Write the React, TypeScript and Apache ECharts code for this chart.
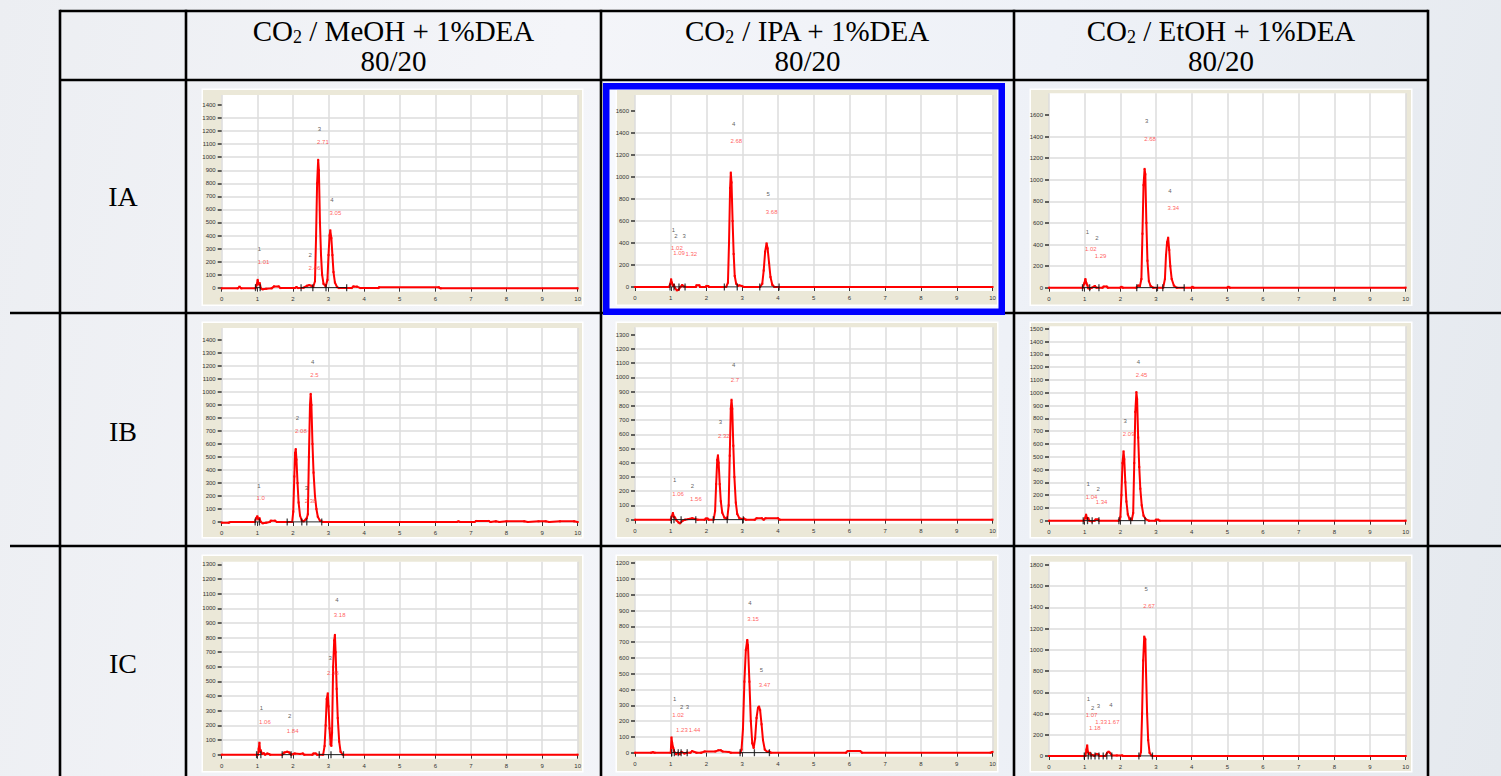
import React, { useEffect, useRef } from 'react';
import * as echarts from 'echarts';

// ---------- texts ----------
const columnSolvents = ['MeOH', 'IPA', 'EtOH'];
const headerAdditive = '1%DEA';
const headerRatio = '80/20';
const rowLabels = ['IA', 'IB', 'IC'];

// ---------- axis ranges (panel order: IA-MeOH, IA-IPA, IA-EtOH, IB-..., IC-...) ----------
const xMin = 0;
const xMax = 10;
const xStep = 1;
const yMaxes = [1477, 1745, 1800, 1492, 1352, 1519, 1318, 1216, 1831];
const ySteps = [100, 200, 200, 100, 100, 100, 100, 100, 200];
const yLabelTops = [1400, 1600, 1600, 1400, 1300, 1500, 1300, 1200, 1800];

// ---------- chromatogram traces [time, signal] ----------
const traceIA_MeOH = [[0,-5],[0.45,-5],[0.5,8],[0.55,-5],[0.95,-5],[0.98,20],[1.01,60],[1.04,25],[1.07,35],[1.1,-5],[1.15,-12],[1.25,-8],[1.4,-5],[1.47,10],[1.6,10],[1.65,-3],[2.05,-3],[2.1,5],[2.15,-3],[2.3,0],[2.4,15],[2.46,20],[2.52,15],[2.57,5],[2.62,50],[2.65,380],[2.68,800],[2.71,980],[2.73,900],[2.76,500],[2.79,250],[2.82,100],[2.86,30],[2.92,10],[2.97,60],[3.0,250],[3.03,400],[3.05,440],[3.08,380],[3.11,250],[3.14,120],[3.18,40],[3.24,5],[3.3,-3],[3.65,-3],[3.7,10],[3.8,8],[3.9,-3],[4.4,-3],[4.42,3],[6.1,3],[6.15,-5],[10,-5]];
const traceIA_IPA = [[0,0],[0.95,0],[0.99,30],[1.01,70],[1.03,40],[1.06,10],[1.09,20],[1.12,-10],[1.17,-30],[1.22,-25],[1.27,0],[1.32,18],[1.36,5],[1.45,0],[1.7,0],[1.72,15],[1.8,15],[1.82,0],[1.98,0],[2.0,10],[2.05,8],[2.07,0],[2.55,0],[2.6,40],[2.63,400],[2.66,900],[2.68,1040],[2.7,950],[2.73,600],[2.76,300],[2.79,100],[2.83,30],[2.88,10],[2.92,15],[2.98,10],[3.05,0],[3.5,0],[3.56,30],[3.6,150],[3.64,320],[3.68,397],[3.71,350],[3.75,220],[3.79,90],[3.84,20],[3.9,0],[10,0]];
const traceIA_EtOH = [[0,0],[0.95,0],[0.99,40],[1.02,80],[1.05,40],[1.08,20],[1.1,-5],[1.15,-8],[1.2,0],[1.26,10],[1.29,15],[1.33,0],[1.5,0],[1.53,10],[1.62,10],[1.65,0],[2.0,0],[2.03,8],[2.07,0],[2.45,0],[2.5,20],[2.55,15],[2.59,80],[2.62,500],[2.65,950],[2.68,1100],[2.7,1050],[2.73,600],[2.76,250],[2.8,60],[2.85,15],[2.92,0],[3.2,0],[3.25,80],[3.28,300],[3.31,420],[3.34,463],[3.37,350],[3.4,200],[3.44,80],[3.5,20],[3.58,0],[4.0,0],[4.02,8],[4.05,0],[5.0,0],[5.03,8],[5.07,0],[10,0]];
const traceIB_MeOH = [[0,-5],[0.2,-5],[0.25,0],[0.93,0],[0.97,30],[1.0,44],[1.03,20],[1.06,30],[1.1,0],[1.15,-10],[1.25,-5],[1.35,0],[1.38,10],[1.5,10],[1.55,0],[1.98,0],[2.01,80],[2.04,350],[2.06,530],[2.08,561],[2.1,480],[2.13,300],[2.16,150],[2.2,50],[2.25,10],[2.3,5],[2.36,20],[2.39,30],[2.42,60],[2.45,500],[2.48,900],[2.5,985],[2.52,900],[2.55,600],[2.58,380],[2.62,200],[2.66,100],[2.7,40],[2.76,10],[2.85,0],[6.6,0],[6.65,5],[6.7,0],[7.1,0],[7.15,8],[7.5,8],[7.55,0],[7.7,5],[7.8,0],[8.0,5],[8.5,5],[8.6,0],[8.9,5],[9.1,5],[9.2,0],[9.5,5],[9.9,5],[10,0]];
const traceIB_IPA = [[0,0],[1.0,0],[1.03,25],[1.06,47],[1.09,20],[1.12,15],[1.16,-5],[1.22,-20],[1.26,-25],[1.32,-10],[1.4,0],[1.5,5],[1.6,10],[1.68,5],[1.75,0],[1.95,0],[1.98,8],[2.03,8],[2.06,0],[2.2,0],[2.24,60],[2.27,250],[2.3,420],[2.32,452],[2.34,400],[2.37,250],[2.4,130],[2.44,50],[2.5,15],[2.58,5],[2.62,100],[2.65,450],[2.68,780],[2.7,843],[2.72,780],[2.75,520],[2.78,300],[2.82,120],[2.86,40],[2.92,10],[3.0,5],[3.05,8],[3.1,0],[3.35,0],[3.4,10],[3.55,10],[3.6,0],[3.65,10],[4.0,10],[4.05,0],[10,0]];
const traceIB_EtOH = [[0,0],[0.98,0],[1.01,20],[1.04,47],[1.07,15],[1.1,20],[1.13,0],[1.2,-5],[1.28,0],[1.31,10],[1.37,10],[1.4,0],[1.95,0],[1.98,5],[2.0,30],[2.03,200],[2.06,450],[2.09,542],[2.11,480],[2.14,300],[2.17,150],[2.21,50],[2.26,10],[2.32,5],[2.36,60],[2.39,450],[2.42,850],[2.45,1005],[2.47,950],[2.5,650],[2.53,420],[2.56,250],[2.6,120],[2.65,40],[2.72,10],[2.8,0],[2.98,0],[3.0,8],[3.06,8],[3.1,0],[10,0]];
const traceIC_MeOH = [[0,0],[1.02,0],[1.04,40],[1.06,82],[1.08,20],[1.1,30],[1.13,5],[1.18,10],[1.22,0],[1.28,8],[1.32,5],[1.36,0],[1.7,0],[1.76,15],[1.84,20],[1.9,15],[1.95,0],[2.05,8],[2.2,5],[2.28,8],[2.32,0],[2.55,0],[2.58,8],[2.64,8],[2.68,0],[2.85,0],[2.89,60],[2.92,200],[2.95,380],[2.98,419],[3.0,330],[3.03,180],[3.06,70],[3.08,60],[3.1,150],[3.13,600],[3.16,780],[3.18,818],[3.2,700],[3.23,450],[3.26,250],[3.3,90],[3.34,20],[3.4,0],[10,0]];
const traceIC_IPA = [[0,0],[0.45,0],[0.5,3],[0.55,0],[1.0,0],[1.02,97],[1.04,60],[1.07,30],[1.1,5],[1.15,-10],[1.2,0],[1.25,-10],[1.3,5],[1.38,-5],[1.45,0],[1.55,0],[1.6,10],[1.66,5],[1.72,0],[1.85,0],[1.95,8],[2.25,8],[2.33,15],[2.4,15],[2.45,8],[2.62,5],[2.68,0],[2.95,0],[2.98,20],[3.02,150],[3.06,450],[3.1,650],[3.14,714],[3.16,680],[3.2,450],[3.24,200],[3.28,60],[3.32,30],[3.36,90],[3.4,220],[3.44,285],[3.47,292],[3.5,270],[3.54,180],[3.58,80],[3.63,20],[3.7,5],[3.75,8],[3.8,0],[5.9,0],[5.95,10],[6.3,10],[6.35,0],[9.95,0],[10,5]];
const traceIC_EtOH = [[0,0],[1.02,0],[1.05,60],[1.07,100],[1.09,40],[1.12,20],[1.15,30],[1.18,5],[1.22,10],[1.27,0],[1.33,20],[1.38,15],[1.42,0],[1.58,0],[1.63,30],[1.67,41],[1.71,30],[1.76,5],[1.9,5],[2.05,5],[2.08,0],[2.55,0],[2.58,40],[2.61,400],[2.64,900],[2.67,1125],[2.7,1100],[2.72,800],[2.75,400],[2.78,150],[2.82,30],[2.87,5],[2.92,0],[10,0]];

// ---------- peak numbers [x, y, text] ----------
const numsIA_MeOH = [[1.01,296,'1'],[2.44,250,'2'],[2.7,1216,'3'],[3.05,672,'4']];
const numsIA_IPA = [[1.03,518,'1'],[1.1,467,'2'],[1.33,467,'3'],[2.71,1485,'4'],[3.68,845,'5']];
const numsIA_EtOH = [[1.03,519,'1'],[1.3,460,'2'],[2.69,1543,'3'],[3.34,895,'4']];
const numsIB_MeOH = [[1.0,279,'1'],[2.08,800,'2'],[2.33,262,'3'],[2.51,1231,'4']];
const numsIB_IPA = [[1.06,276,'1'],[1.56,237,'2'],[2.34,686,'3'],[2.71,1084,'4']];
const numsIB_EtOH = [[1.05,289,'1'],[1.33,247,'2'],[2.09,776,'3'],[2.46,1240,'4']];
const numsIC_MeOH = [[1.07,321,'1'],[1.86,264,'2'],[3.0,663,'3'],[3.19,1055,'4']];
const numsIC_IPA = [[1.06,340,'1'],[1.26,290,'2'],[1.42,290,'3'],[3.17,951,'4'],[3.49,524,'5']];
const numsIC_EtOH = [[1.06,538,'1'],[1.18,453,'2'],[1.34,475,'3'],[1.69,481,'4'],[2.68,1572,'5']];

// ---------- retention-time labels [x, y, text] ----------
const rtsIA_MeOH = [[1.01,197,'1.01'],[2.44,153,'2.46'],[2.68,1113,'2.71'],[3.03,575,'3.05']];
const rtsIA_IPA = [[1.01,358,'1.02'],[1.07,306,'1.09'],[1.41,303,'1.32'],[2.67,1327,'2.68'],[3.66,682,'3.68']];
const rtsIA_EtOH = [[1.01,358,'1.02'],[1.28,293,'1.29'],[2.67,1377,'2.68'],[3.32,735,'3.34']];
const rtsIB_MeOH = [[0.98,185,'1.0'],[2.06,697,'2.08'],[2.33,164,'2.38'],[2.49,1128,'2.5']];
const rtsIB_IPA = [[1.04,180,'1.06'],[1.54,145,'1.56'],[2.32,588,'2.32'],[2.68,981,'2.7']];
const rtsIB_EtOH = [[1.03,185,'1.04'],[1.31,148,'1.34'],[2.07,677,'2.09'],[2.43,1135,'2.45']];
const rtsIC_MeOH = [[1.05,223,'1.06'],[1.83,162,'1.84'],[2.96,558,'2.98'],[3.15,954,'3.18']];
const rtsIC_IPA = [[1.04,236,'1.02'],[1.15,144,'1.23'],[1.5,144,'1.44'],[3.14,848,'3.15'],[3.46,429,'3.47']];
const rtsIC_EtOH = [[1.03,385,'1.07'],[1.12,268,'1.18'],[1.3,325,'1.33'],[1.65,320,'1.67'],[2.64,1415,'2.67']];

// ---------- integration boundaries (clusters of marks) ----------
const marksIA_MeOH = [[0.95,1.08],[2.23,2.56,2.93,3.51]];
const marksIA_IPA = [[0.98,1.09,1.23,1.4],[2.5,2.86],[3.49,4.03]];
const marksIA_EtOH = [[0.94,1.14,1.4],[2.46,3.04],[3.19,3.79]];
const marksIB_MeOH = [[0.94,1.06],[1.84,2.25,2.39,2.81]];
const marksIB_IPA = [[1.01,1.09,1.29,1.7],[2.19,2.58,3.03]];
const marksIB_EtOH = [[0.96,1.08,1.21,1.4],[1.96,2.29,2.69]];
const marksIC_MeOH = [[0.98,1.1],[1.7,1.95],[2.74,3.07,3.42]];
const marksIC_IPA = [[1.03,1.1,1.21,1.29,1.46],[2.94,3.34,3.76]];
const marksIC_EtOH = [[0.99,1.1,1.18,1.29,1.4],[1.52,1.62,1.76],[2.52,2.9]];

const traces = [traceIA_MeOH, traceIA_IPA, traceIA_EtOH, traceIB_MeOH, traceIB_IPA, traceIB_EtOH, traceIC_MeOH, traceIC_IPA, traceIC_EtOH];
const nums = [numsIA_MeOH, numsIA_IPA, numsIA_EtOH, numsIB_MeOH, numsIB_IPA, numsIB_EtOH, numsIC_MeOH, numsIC_IPA, numsIC_EtOH];
const rts = [rtsIA_MeOH, rtsIA_IPA, rtsIA_EtOH, rtsIB_MeOH, rtsIB_IPA, rtsIB_EtOH, rtsIC_MeOH, rtsIC_IPA, rtsIC_EtOH];
const marks = [marksIA_MeOH, marksIA_IPA, marksIA_EtOH, marksIB_MeOH, marksIB_IPA, marksIB_EtOH, marksIC_MeOH, marksIC_IPA, marksIC_EtOH];

// ---------- layout (pixels) ----------
const colX0 = [221.7, 635, 1049];
const colX10 = [577.7, 992.5, 1405.7];
const panelY0 = [287.7, 287, 287.7, 522, 519.7, 520.7, 754.7, 752.7, 756];
const panelYTop = [95, 95, 93.3, 328, 327.3, 326.3, 561.7, 560.7, 561.7];
const frameX = [[203, 582], [617, 997], [1031, 1411]];
const frameY = [[90, 304.5], [323, 537], [556, 771]];
const tableVX = [60, 186, 601, 1014, 1428];
const tableTop = 11;
const headerBottom = 80;
const rowLinesY = [313, 546];
const rowCentersY = [196, 431, 663];

const SERIF = '"Liberation Serif", "Times New Roman", serif';
const SANS = '"Liberation Sans", Arial, sans-serif';

function tickValues(step: number, top: number) {
  const out: number[] = [];
  for (let v = 0; v <= top + 1e-6; v += step) out.push(v);
  return out;
}

function buildOption() {
  const grid: any[] = [];
  const xAxis: any[] = [];
  const yAxis: any[] = [];
  const series: any[] = [];
  const graphic: any[] = [];

  // table lines
  const tl = (x1: number, y1: number, x2: number, y2: number) => ({
    type: 'line', z: 10, silent: true,
    shape: { x1, y1, x2, y2 },
    style: { stroke: '#000', lineWidth: 2.6 },
  });
  graphic.push(tl(tableVX[0], tableTop, tableVX[4], tableTop));
  graphic.push(tl(tableVX[0], headerBottom, tableVX[4], headerBottom));
  rowLinesY.forEach((y) => graphic.push(tl(10, y, 1501, y)));
  tableVX.forEach((x) => graphic.push(tl(x, tableTop - 1.3, x, 776)));

  // header
  columnSolvents.forEach((s, c) => {
    const cx = (tableVX[c + 1] + tableVX[c + 2]) / 2;
    graphic.push({
      type: 'text', z: 10, silent: true, x: cx, y: 31,
      style: {
        text: `{a|CO}{s|2}{a| / ${s} + ${headerAdditive}}`,
        align: 'center', verticalAlign: 'middle', fill: '#000',
        rich: {
          a: { fontSize: 29, fontFamily: SERIF, fill: '#000' },
          s: { fontSize: 18, fontFamily: SERIF, fill: '#000', verticalAlign: 'bottom', lineHeight: 10 },
        },
      },
    });
    graphic.push({
      type: 'text', z: 10, silent: true, x: cx, y: 61,
      style: { text: headerRatio, align: 'center', verticalAlign: 'middle', fill: '#000', fontSize: 29, fontFamily: SERIF },
    });
  });
  rowLabels.forEach((r, i) => {
    graphic.push({
      type: 'text', z: 10, silent: true, x: (tableVX[0] + tableVX[1]) / 2, y: rowCentersY[i],
      style: { text: r, align: 'center', verticalAlign: 'middle', fill: '#000', fontSize: 28, fontFamily: SERIF },
    });
  });

  // highlight box
  graphic.push({
    type: 'rect', z: -8, silent: true,
    shape: { x: 606.25, y: 86.25, width: 395.5, height: 225.5 },
    style: { fill: '#f7f9fe' },
  });
  graphic.push({
    type: 'rect', z: 12, silent: true,
    shape: { x: 606.25, y: 86.25, width: 395.5, height: 225.5 },
    style: { fill: 'none', stroke: '#0000ff', lineWidth: 6.5 },
  });

  for (let i = 0; i < 9; i++) {
    const r = Math.floor(i / 3);
    const c = i % 3;
    const x0 = colX0[c];
    const x10 = colX10[c];
    const [fx1, fx2] = frameX[c];
    const [fy1, fy2] = frameY[r];
    graphic.push({
      type: 'rect', z: -7, silent: true,
      shape: { x: fx1 - 1.5, y: fy1 - 1.5, width: fx2 - fx1 + 3, height: fy2 - fy1 + 3 },
      style: { fill: '#ffffff' },
    });
    graphic.push({
      type: 'rect', z: -6, silent: true,
      shape: { x: fx1, y: fy1, width: fx2 - fx1, height: fy2 - fy1 },
      style: { fill: '#ebe8d8' },
    });
    graphic.push({
      type: 'rect', z: -5, silent: true,
      shape: { x: x0, y: panelYTop[i], width: x10 - x0, height: panelY0[i] - panelYTop[i] + 4 },
      style: { fill: '#ffffff' },
    });

    grid.push({
      left: x0, top: panelYTop[i], width: x10 - x0, height: panelY0[i] - panelYTop[i],
      containLabel: false, outerBoundsMode: 'none',
    });
    xAxis.push({
      type: 'value', gridIndex: i, min: xMin, max: xMax, interval: xStep, offset: 4,
      axisLine: { show: false },
      axisTick: { show: true, length: 4, lineStyle: { color: '#333', width: 1 } },
      axisLabel: { fontSize: 6, color: '#333', margin: 4, fontFamily: SANS },
      splitLine: { show: true, lineStyle: { color: '#dcdcdc', width: 1.5 } },
    });
    const step = ySteps[i];
    const top = yLabelTops[i];
    const tv = tickValues(step, top);
    yAxis.push({
      type: 'value', gridIndex: i, min: 0, max: yMaxes[i], interval: step, offset: 1,
      axisLine: { show: false },
      axisTick: { show: true, length: 4, customValues: tv, lineStyle: { color: '#333', width: 1.5 } },
      axisLabel: {
        fontSize: 6, color: '#333', margin: 5, fontFamily: SANS, customValues: tv,
        formatter: (v: number) => (v <= top && Math.abs(v % step) < 1e-6 ? String(v) : ''),
      },
      splitLine: { show: true, showMaxLine: false, lineStyle: { color: '#dcdcdc', width: 1.5 } },
    });

    series.push({
      type: 'line', xAxisIndex: i, yAxisIndex: i, data: traces[i], clip: false, z: 3,
      symbol: 'rect', symbolSize: 2, showSymbol: true, showAllSymbol: true,
      lineStyle: { color: '#ff0000', width: 2 }, itemStyle: { color: '#ff0000' },
      silent: true,
    });
    const base: any[] = [];
    const marksFlat: any[] = [];
    marks[i].forEach((cl: number[]) => {
      cl.forEach((m) => { base.push([m, 0]); marksFlat.push([m, 0]); });
      base.push([cl[cl.length - 1] + 0.001, '-']);
    });
    series.push({
      type: 'line', xAxisIndex: i, yAxisIndex: i, data: base, z: 4, showSymbol: false,
      connectNulls: false, lineStyle: { color: '#111', width: 1 }, silent: true,
    });
    series.push({
      type: 'scatter', xAxisIndex: i, yAxisIndex: i, data: marksFlat, z: 5,
      symbol: 'rect', symbolSize: [1.3, 7], itemStyle: { color: '#111' }, silent: true,
    });
    series.push({
      type: 'scatter', xAxisIndex: i, yAxisIndex: i, data: nums[i], z: 6, symbolSize: 0, silent: true,
      label: { show: true, position: 'right', distance: 0, formatter: (p: any) => p.data[2], fontSize: 6, color: '#333', fontFamily: SANS },
    });
    series.push({
      type: 'scatter', xAxisIndex: i, yAxisIndex: i, data: rts[i], z: 6, symbolSize: 0, silent: true,
      label: { show: true, position: 'right', distance: 0, formatter: (p: any) => p.data[2], fontSize: 6, color: '#ff3333', fontFamily: SANS },
    });
  }

  return {
    animation: false,
    backgroundColor: 'transparent',
    grid, xAxis, yAxis, series, graphic,
  };
}

export default function App() {
  const ref = useRef<HTMLDivElement>(null);
  useEffect(() => {
    if (!ref.current) return;
    const chart = echarts.init(ref.current, undefined, { renderer: 'svg' });
    chart.setOption(buildOption() as any);
    return () => chart.dispose();
  }, []);
  return (
    <div
      ref={ref}
      style={{
        position: 'fixed', left: 0, top: 0, width: 1501, height: 776,
        background: 'linear-gradient(100deg, #eceef2 0%, #f4f5f9 35%, #eef1f7 65%, #e5e9ee 100%)',
      }}
    />
  );
}
